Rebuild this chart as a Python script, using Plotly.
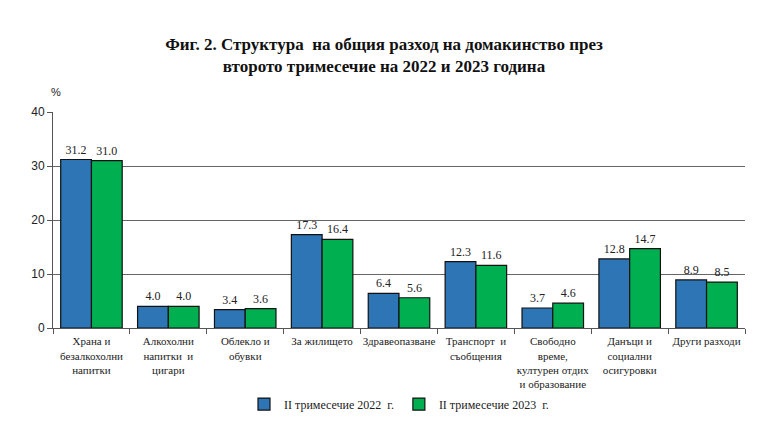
import plotly.graph_objects as go

categories = [
    "Храна и<br>безалкохолни<br>напитки",
    "Алкохолни<br>напитки  и<br>цигари",
    "Облекло и<br>обувки",
    "За жилището",
    "Здравеопазване",
    "Транспорт  и<br>съобщения",
    "Свободно<br>време,<br>културен отдих<br>и образование",
    "Данъци и<br>социални<br>осигуровки",
    "Други разходи",
]
series_names = ["II тримесечие 2022  г.", "II тримесечие 2023  г."]
values_2022 = [31.2, 4.0, 3.4, 17.3, 6.4, 12.3, 3.7, 12.8, 8.9]
values_2023 = [31.0, 4.0, 3.6, 16.4, 5.6, 11.6, 4.6, 14.7, 8.5]
colors = ["#2E75B6", "#00B050"]
y_ticks = [0, 10, 20, 30, 40]

serif = "Liberation Serif"

fig = go.Figure()
for name, vals, col in zip(series_names, [values_2022, values_2023], colors):
    fig.add_trace(go.Bar(
        x=categories, y=vals, name=name,
        marker=dict(color=col, line=dict(color="#111111", width=1.2)),
        text=[f"{v:.1f}" for v in vals], textposition="outside",
        textfont=dict(family=serif, size=12, color="#222222"),
        cliponaxis=False,
    ))

fig.update_layout(
    width=768, height=437,
    margin=dict(l=53, r=23, t=112, b=109),
    paper_bgcolor="white", plot_bgcolor="white",
    barmode="group", bargap=0.2, bargroupgap=0,
    title=dict(
        text="<b>Фиг. 2. Структура  на общия разход на домакинство през<br>второто тримесечие на 2022 и 2023 година</b>",
        x=0.5, xanchor="center", y=0.885, yanchor="top",
        font=dict(family=serif, size=17, color="#111111"),
    ),
    showlegend=True,
    legend=dict(
        orientation="h", x=0.50, xanchor="center", y=-0.285, yanchor="top",
        font=dict(family=serif, size=12, color="#222222"),
        bgcolor="rgba(0,0,0,0)",
        itemwidth=30, traceorder="normal",
    ),
    font=dict(family=serif, color="#222222"),
)
fig.update_xaxes(
    showline=True, linecolor="#555555", linewidth=1,
    ticks="outside", tickson="boundaries", ticklen=5, tickcolor="#555555",
    tickfont=dict(family=serif, size=11, color="#222222"),
    tickangle=0, ticklabelstandoff=3,
)
fig.update_yaxes(
    range=[0, 40], tickvals=y_ticks,
    showline=True, linecolor="#555555", linewidth=1,
    ticks="outside", ticklen=5, tickcolor="#555555",
    showgrid=True, gridcolor="#666666", gridwidth=1,
    tickfont=dict(family="Liberation Sans", size=12, color="#222222"),
    zeroline=False,
)
fig.add_annotation(
    text="%", xref="paper", yref="paper", x=0.005, y=1.055,
    xanchor="center", yanchor="bottom", showarrow=False,
    font=dict(family="Liberation Sans", size=11, color="#222222"),
)
fig.write_html("out.html")
